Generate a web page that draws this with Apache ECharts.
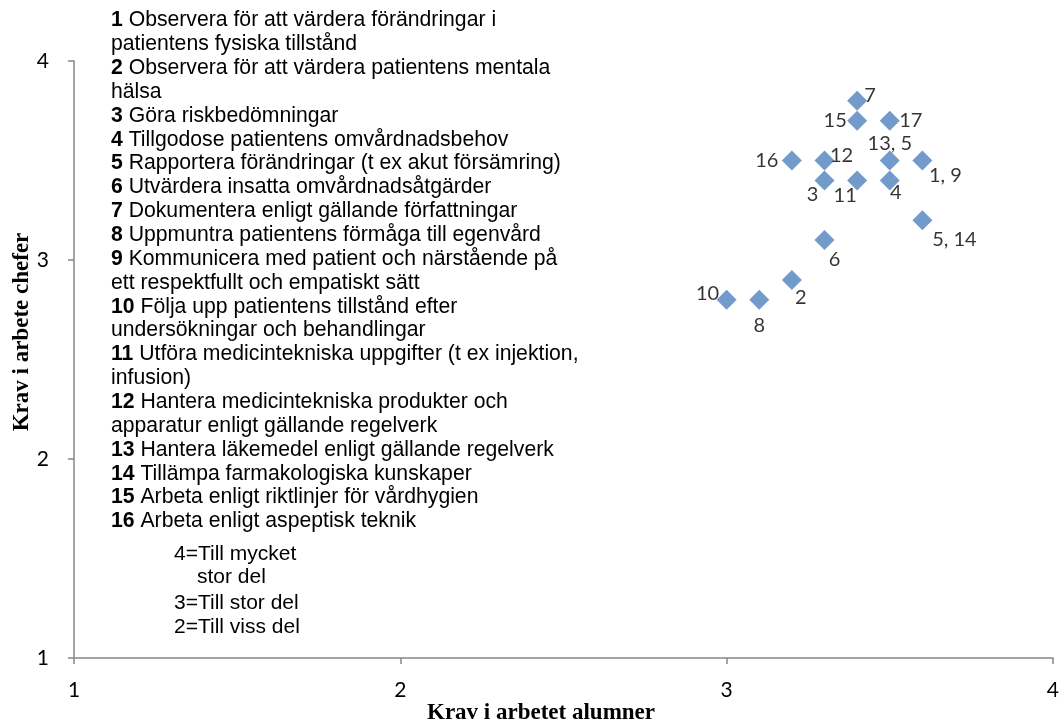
<!DOCTYPE html>
<html>
<head>
<meta charset="utf-8">
<script src="https://cdn.jsdelivr.net/npm/echarts@6/dist/echarts.min.js"></script>
<style>
html,body{margin:0;padding:0;background:#fff;}
#chart{width:1062px;height:724px;}
</style>
</head>
<body>
<div id="chart"></div>
<script>
// ---- data ----
const pointLabels = ['7', '15', '17', '13, 5', '16', '12', '1, 9', '3', '11', '4', '5, 14', '6', '2', '10', '8'];
const xValues     = [3.4, 3.4, 3.5, 3.5, 3.2, 3.3, 3.6, 3.3, 3.4, 3.5, 3.6, 3.3, 3.2, 3.0, 3.1];
const yValues     = [3.8, 3.7, 3.7, 3.5, 3.5, 3.5, 3.5, 3.4, 3.4, 3.4, 3.2, 3.1, 2.9, 2.8, 2.8];
const xTicks = [1, 2, 3, 4];
const yTicks = [1, 2, 3, 4];
const xTitle = 'Krav i arbetet alumner';
const yTitle = 'Krav i arbete chefer';
const itemNums = ['1', '', '2', '', '3', '4', '5', '6', '7', '8', '9', '', '10', '', '11', '', '12', '', '13', '14', '15', '16'];
const itemTexts = [
  'Observera för att värdera förändringar i',
  'patientens fysiska tillstånd',
  'Observera för att värdera patientens mentala',
  'hälsa',
  'Göra riskbedömningar',
  'Tillgodose patientens omvårdnadsbehov',
  'Rapportera förändringar (t ex akut försämring)',
  'Utvärdera insatta omvårdnadsåtgärder',
  'Dokumentera enligt gällande författningar',
  'Uppmuntra patientens förmåga till egenvård',
  'Kommunicera med patient och närstående på',
  'ett respektfullt och empatiskt sätt',
  'Följa upp patientens tillstånd efter',
  'undersökningar och behandlingar',
  'Utföra medicintekniska uppgifter (t ex injektion,',
  'infusion)',
  'Hantera medicintekniska produkter och',
  'apparatur enligt gällande regelverk',
  'Hantera läkemedel enligt gällande regelverk',
  'Tillämpa farmakologiska kunskaper',
  'Arbeta enligt riktlinjer för vårdhygien',
  'Arbeta enligt aspeptisk teknik'
];
const scaleLines = ['4=Till mycket', 'stor del', '3=Till stor del', '2=Till viss del'];

// ---- styles (label offsets relative to marker centre) ----
const labelOffsets = [[13,-5],[-22,0],[21,0],[0,-17],[-25,0],[17,-5],[23,15],[-12,14],[-12,15],[6,12],[32,19],[10,19],[9,18],[-19,-6],[0,26]];

const tickFont = 'Lato, "Open Sans", sans-serif';
const textFont = '"Liberation Sans", Arial, sans-serif';
const serifFont = '"Liberation Serif", "Times New Roman", serif';

const seriesData = xValues.map((x, i) => ({
  value: [x, yValues[i]],
  name: pointLabels[i],
  label: { offset: labelOffsets[i] }
}));

const graphics = [];
const lineH = 23.85;
const textSize = 21.2;
itemTexts.forEach((t, i) => {
  const txt = itemNums[i] ? '{b|' + itemNums[i] + '} ' + t : t;
  graphics.push({
    type: 'text', left: 111, top: 10 + i * lineH, silent: true,
    style: {
      text: txt, fill: '#000', fontFamily: textFont, fontSize: textSize,
      rich: { b: { fontWeight: 'bold', fontFamily: textFont, fontSize: textSize, fill: '#000' } }
    }
  });
});
const scaleTops = [544, 567, 593, 617];
const scaleLefts = [174, 197, 174, 174];
scaleLines.forEach((t, i) => {
  graphics.push({
    type: 'text', left: scaleLefts[i], top: scaleTops[i], silent: true,
    style: { text: t, fill: '#000', fontFamily: textFont, fontSize: 21 }
  });
});
graphics.push({
  type: 'text', silent: true, x: 541, y: 713,
  style: { text: xTitle, fill: '#000', fontFamily: serifFont, fontWeight: 'bold', fontSize: 23, textAlign: 'center', textVerticalAlign: 'middle' }
});
graphics.push({
  type: 'text', silent: true, x: 22, y: 332, rotation: Math.PI / 2,
  style: { text: yTitle, fill: '#000', fontFamily: serifFont, fontWeight: 'bold', fontSize: 23, textAlign: 'center', textVerticalAlign: 'middle' }
});

const axisCommon = {
  type: 'value', min: 1, max: 4, interval: 1,
  axisLine: { show: true, lineStyle: { color: '#868686', width: 1.5 } },
  axisTick: { show: true, inside: false, length: 6, lineStyle: { color: '#868686', width: 1.5 } },
  splitLine: { show: false },
  axisLabel: { color: '#000', fontFamily: tickFont, fontSize: 21 }
};

const chart = echarts.init(document.getElementById('chart'), null, { renderer: 'canvas' });
chart.setOption({
  backgroundColor: '#fff',
  animation: false,
  grid: { left: 74, right: 7, top: 61, bottom: 66, containLabel: false },
  xAxis: Object.assign({}, axisCommon, {
    axisLabel: Object.assign({}, axisCommon.axisLabel, { margin: 22, formatter: v => xTicks.includes(v) ? String(v) : '' })
  }),
  yAxis: Object.assign({}, axisCommon, {
    axisLabel: Object.assign({}, axisCommon.axisLabel, { margin: 25, formatter: v => yTicks.includes(v) ? String(v) : '' })
  }),
  series: [{
    type: 'scatter',
    symbol: 'diamond',
    symbolSize: 20,
    itemStyle: { color: '#4F81BD' },
    label: {
      show: true, position: 'inside', formatter: p => p.name,
      color: '#000', fontFamily: tickFont, fontSize: 20
    },
    data: seriesData
  }],
  graphic: graphics
});
</script>
</body>
</html>
